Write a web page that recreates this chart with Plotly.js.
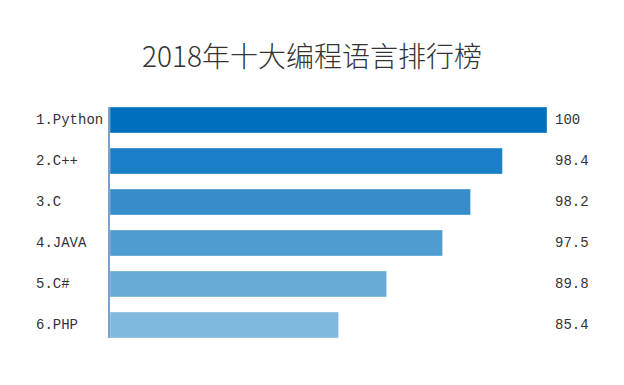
<!DOCTYPE html>
<html>
<head>
<meta charset="utf-8">
<script src="https://cdn.plot.ly/plotly-3.0.1.min.js"></script>
<style>html,body{margin:0;padding:0;background:#fff;}#chart{width:624px;height:385px;}</style>
</head>
<body>
<div id="chart"></div>
<script>
const categories = ["1.Python", "2.C++", "3.C", "4.JAVA", "5.C#", "6.PHP"];
// bar lengths as drawn (0–100 scale)
const barLengths = [100, 89.8, 82.5, 76.1, 63.3, 52.3];
// score labels shown at the right
const scoreLabels = ["100", "98.4", "98.2", "97.5", "89.8", "85.4"];
const barColors = ["#0070BE", "#1B7FC5", "#368DCA", "#4E9CD0", "#67AAD6", "#81B8DE"];

const labelFont = {family: "Liberation Mono, DejaVu Sans Mono, monospace", size: 14, color: "#333"};

const annotations = [];
categories.forEach((c, i) => {
  annotations.push({
    xref: "paper", yref: "y", x: -0.1735, y: c, text: c,
    xanchor: "left", yanchor: "middle", showarrow: false, font: labelFont
  });
  annotations.push({
    xref: "paper", yref: "y", x: 1.0135, y: c, text: scoreLabels[i],
    xanchor: "left", yanchor: "middle", showarrow: false, font: labelFont
  });
});

const data = [{
  type: "bar",
  orientation: "h",
  y: categories,
  x: barLengths,
  width: 0.634,
  marker: {color: barColors, line: {color: "rgba(255,255,255,0.35)", width: 1}},
  hoverinfo: "none"
}];

const layout = {
  width: 624, height: 385,
  margin: {l: 110, r: 77, t: 107, b: 47, pad: 0},
  paper_bgcolor: "#fff", plot_bgcolor: "#fff",
  showlegend: false,
  title: {
    text: "2018年十大编程语言排行榜",
    font: {family: "Noto Sans CJK SC, sans-serif", size: 28, color: "#333", weight: 300},
    x: 0.5, xanchor: "center", xref: "container",
    y: 1 - 57 / 385, yref: "container", yanchor: "middle"
  },
  xaxis: {range: [0, 100], visible: false, fixedrange: true},
  yaxis: {
    type: "category",
    range: [5.318, -0.318],
    showticklabels: false, ticks: "",
    showgrid: false, zeroline: false,
    showline: true, linecolor: "#7C9FCE", linewidth: 2
  },
  annotations: annotations
};

Plotly.newPlot("chart", data, layout, {displayModeBar: false, staticPlot: true});
</script>
</body>
</html>
